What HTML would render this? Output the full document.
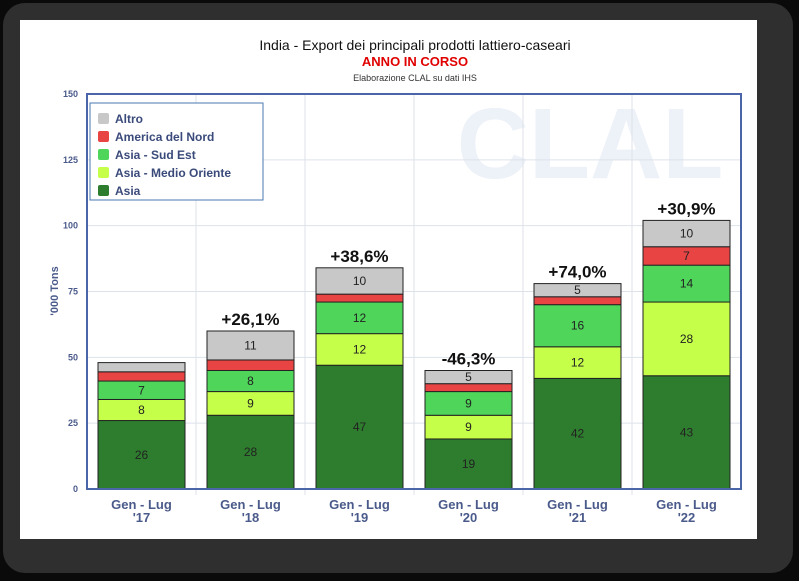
<!DOCTYPE html>
<html><head><meta charset="utf-8"><style>
body{margin:0;width:799px;height:581px;background:#0a0a0a;overflow:hidden;font-family:"Liberation Sans",sans-serif}
#frame{position:absolute;left:3px;top:3px;width:790px;height:570px;background:#2f2f2f;border-radius:22px}
#card{position:absolute;left:20px;top:20px;width:737px;height:519px;background:#fff}
</style></head><body>
<div id="frame"></div>
<div id="card"></div>
<svg id="chart" width="799" height="581" style="position:absolute;left:0;top:0">
<text x="415" y="50" text-anchor="middle" font-size="14" fill="#111">India - Export dei principali prodotti lattiero-caseari</text>
<text x="415" y="66" text-anchor="middle" font-size="13" font-weight="bold" fill="#e00000">ANNO IN CORSO</text>
<text x="415" y="81" text-anchor="middle" font-size="9" fill="#333">Elaborazione CLAL su dati IHS</text>
<text x="590" y="178" text-anchor="middle" font-size="100" font-weight="bold" fill="#edf1f8">CLAL</text>
<g id="grid"></g><g id="bars"></g><g id="labels"></g>
<rect x="87" y="94" width="654" height="395" fill="none" stroke="#4a66a8" stroke-width="2"/>
<text transform="translate(58,291) rotate(-90)" text-anchor="middle" font-size="11" font-weight="bold" fill="#4a5a8a">'000 Tons</text>
<g>
<rect x="90" y="103" width="173" height="97" fill="#fff" stroke="#4a7ab0" stroke-width="1"/>
<g id="legend-items"></g>
</g>
</svg>
<script>
const categories=["Gen - Lug|'17","Gen - Lug|'18","Gen - Lug|'19","Gen - Lug|'20","Gen - Lug|'21","Gen - Lug|'22"];
const seriesNames=["Asia","Asia - Medio Oriente","Asia - Sud Est","America del Nord","Altro"];
const asia=[26,28,47,19,42,43];
const medioOriente=[8,9,12,9,12,28];
const sudEst=[7,8,12,9,16,14];
const nordAmerica=[3.5,4,3,3,3,7];
const altro=[3.5,11,10,5,5,10];
const showLabel=[[1,1,1,0,0],[1,1,1,0,1],[1,1,1,0,1],[1,1,1,0,1],[1,1,1,0,1],[1,1,1,1,1]];
const growth=["","+26,1%","+38,6%","-46,3%","+74,0%","+30,9%"];
const yTicks=[0,25,50,75,100,125,150];
const colors=["#2e7d2e","#c6ff4a","#4fd65a","#e84444","#c8c8c8"];
const series=[asia,medioOriente,sudEst,nordAmerica,altro];
const NS="http://www.w3.org/2000/svg";
const X0=87,X1=741,Y0=489,Y1=94,YMAX=150;
const y=v=>Y0-(v/YMAX)*(Y0-Y1);
const bw=(X1-X0)/categories.length;
const x=i=>X0+i*bw;
function mk(t,a,p){const e=document.createElementNS(NS,t);for(const k in a)e.setAttribute(k,a[k]);p.appendChild(e);return e;}
const grid=document.getElementById('grid'),bars=document.getElementById('bars'),labels=document.getElementById('labels');
yTicks.forEach(t=>{
 const l=mk('line',{x1:X0,x2:X1,y1:y(t),y2:y(t),stroke:'#dde2ea','stroke-width':1},grid);
 
 
 const tx=mk('text',{x:78,y:y(t)+3,'text-anchor':'end','font-size':9,'font-weight':'bold',fill:'#4a5a8a'},grid);
 tx.textContent=t;
 
 
});
categories.forEach((c,i)=>{
 if(i>0){const v=mk('line',{x1:x(i),x2:x(i),y1:Y1,y2:Y0+6,stroke:'#dde2ea'},grid);
 
 }
 const bx=x(i)+11,w=bw-22;let acc=0;
 series.forEach((s,k)=>{
  const v=s[i];const r=mk('rect',{x:bx,y:y(acc+v),width:w,height:y(acc)-y(acc+v),fill:colors[k],stroke:'#222','stroke-width':1},bars);
  
  
  if(showLabel[i][k]){const t=mk('text',{x:bx+w/2,y:y(acc+v/2)+4,'text-anchor':'middle','font-size':12,fill:'#222'},labels);
   t.textContent=Math.round(v);
   
   }
  acc+=v;
 });
 if(growth[i]){const g=mk('text',{x:bx+w/2,y:y(acc)-6,'text-anchor':'middle','font-size':17,'font-weight':'bold',fill:'#111'},labels);
  g.textContent=growth[i];
  
  }
 const parts=c.split('|');
 parts.forEach((p,j)=>{const t=mk('text',{x:x(i)+bw/2,y:Y0+20+j*13,'text-anchor':'middle','font-size':13,'font-weight':'bold',fill:'#4a5a8a'},labels);
  t.textContent=p;
  
  });
});
const li=document.getElementById('legend-items');
[4,3,2,1,0].forEach((k,j)=>{
 const yy=113+j*18;
 const r=mk('rect',{x:98,y:yy,width:11,height:11,rx:2,fill:colors[k]},li);
 
 
 const t=mk('text',{x:115,y:yy+10,'font-size':12,'font-weight':'bold',fill:'#3a4a7a'},li);
 t.textContent=seriesNames[k];
 
 
});
</script>
</body></html>
